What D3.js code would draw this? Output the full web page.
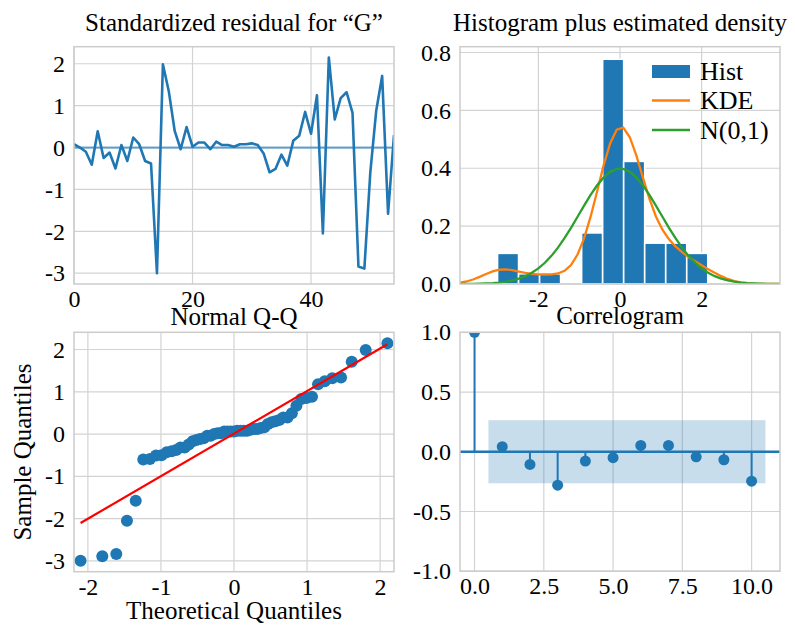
<!DOCTYPE html>
<html>
<head>
<meta charset="utf-8">
<script src="https://cdn.jsdelivr.net/npm/d3@7"></script>
<style>
  body { margin: 0; background: #fff; }
  svg text { font-family: "Liberation Serif", "Times New Roman", serif; fill: #000; }
</style>
</head>
<body>
<svg id="fig" width="795" height="627"></svg>
<script>
// Standardized residuals of the fitted model, one per time step
const residuals = [
  0.08, 0.0, -0.1, -0.41, 0.39, -0.25, -0.12, -0.5, 0.06, -0.32,
  0.24, 0.08, -0.32, -0.38, -3.0, 1.99, 1.34, 0.39, -0.04, 0.49,
  0.02, 0.12, 0.12, -0.04, 0.14, 0.06, 0.06, 0.02, 0.08, 0.08,
  0.1, 0.06, -0.14, -0.59, -0.51, -0.17, -0.43, 0.16, 0.28, 0.85,
  0.33, 1.25, -2.05, 2.15, 0.67, 1.18, 1.32, 0.83, -2.84, -2.89,
  -0.6, 0.88, 1.71, -1.58, 0.3
];

// Autocorrelation of the residuals and its 95% band
const acfLags = [0, 1, 2, 3, 4, 5, 6, 7, 8, 9, 10];
const acfValues = [1.0, 0.042, -0.106, -0.28, -0.078, -0.05, 0.053, 0.053, -0.042, -0.067, -0.246];
const acfBand = 0.264;

const histBinCount = 10;
const densityRange = [-3.92, 3.92];

// Tick values per panel
const residTicksX = [0, 20, 40];
const residTicksY = [-3, -2, -1, 0, 1, 2];
const histTicksX = [-2, 0, 2];
const histTicksY = [0, 0.2, 0.4, 0.6, 0.8];
const qqTicksX = [-2, -1, 0, 1, 2];
const qqTicksY = [-3, -2, -1, 0, 1, 2];
const acfTicksX = [0, 2.5, 5, 7.5, 10];
const acfTicksY = [-1, -0.5, 0, 0.5, 1];

const titles = ["Standardized residual for \u201CG\u201D", "Histogram plus estimated density", "Normal Q-Q", "Correlogram"];
const legendLabels = ["Hist", "KDE", "N(0,1)"];

const SERIF = '"Liberation Serif", "Times New Roman", serif';
const BLUE = "#1f77b4", ORANGE = "#ff7f0e", GREEN = "#2ca02c", RED = "#ff0000";
const GRID = "#d3d3d3", FRAME = "#cccccc";

const svg = d3.select("#fig");

const boxes = {
  resid: { x0: 74, x1: 394, y0: 46.7, y1: 284 },
  hist:  { x0: 460, x1: 780, y0: 46.7, y1: 284 },
  qq:    { x0: 74, x1: 394, y0: 332.3, y1: 571.7 },
  acf:   { x0: 460, x1: 780, y0: 332.3, y1: 571.2 }
};

const minus = s => s.replace("\u2212", "-");

function panel(key, xDom, yDom, xTicks, yTicks, fx, fy) {
  const b = boxes[key];
  const x = d3.scaleLinear().domain(xDom).range([b.x0, b.x1]);
  const y = d3.scaleLinear().domain(yDom).range([b.y1, b.y0]);
  const g = svg.append("g");
  // grid
  g.append("g").selectAll("line").data(xTicks).join("line")
    .attr("x1", d => x(d)).attr("x2", d => x(d)).attr("y1", b.y0).attr("y2", b.y1)
    .attr("stroke", GRID).attr("stroke-width", 1.2);
  g.append("g").selectAll("line").data(yTicks).join("line")
    .attr("y1", d => y(d)).attr("y2", d => y(d)).attr("x1", b.x0).attr("x2", b.x1)
    .attr("stroke", GRID).attr("stroke-width", 1.2);
  // axes
  const ax = g.append("g").attr("transform", `translate(0,${b.y1})`)
    .call(d3.axisBottom(x).tickValues(xTicks).tickFormat(d => minus(fx(d))).tickSize(0).tickPadding(6));
  const ay = g.append("g").attr("transform", `translate(${b.x0},0)`)
    .call(d3.axisLeft(y).tickValues(yTicks).tickFormat(d => minus(fy(d))).tickSize(0).tickPadding(9));
  [ax, ay].forEach(a => {
    a.select(".domain").remove();
    a.attr("font-family", SERIF).attr("font-size", 24);
    a.selectAll("text").style("font-family", SERIF).style("font-size", "24px");
  });
  // clip
  const cid = "clip-" + key;
  svg.append("clipPath").attr("id", cid).append("rect")
    .attr("x", b.x0).attr("y", b.y0).attr("width", b.x1 - b.x0).attr("height", b.y1 - b.y0);
  const plot = svg.append("g").attr("clip-path", `url(#${cid})`);
  const frame = () => svg.append("rect")
    .attr("x", b.x0).attr("y", b.y0).attr("width", b.x1 - b.x0).attr("height", b.y1 - b.y0)
    .attr("fill", "none").attr("stroke", FRAME).attr("stroke-width", 1.5);
  return { x, y, plot, frame, b };
}

function addText(x, y, text, size, transform) {
  const t = svg.append("text").attr("x", x).attr("y", y)
    .attr("text-anchor", "middle").style("font-family", SERIF).style("font-size", size + "px").text(text);
  if (transform) t.attr("transform", transform);
  return t;
}

function addTitle(b, text, baseline) {
  addText((b.x0 + b.x1) / 2, baseline, text, 25);
}

const n = residuals.length;
const rMin = d3.min(residuals), rMax = d3.max(residuals);
const rPad = 0.05 * (rMax - rMin);

// ---- Panel 1: residual series ----
{
  const p = panel("resid", [0, n - 1], [rMin - rPad, rMax + rPad], residTicksX, residTicksY,
    d3.format("d"), d3.format("d"));
  p.plot.append("line")
    .attr("x1", p.x(0)).attr("x2", p.x(n - 1)).attr("y1", p.y(0)).attr("y2", p.y(0))
    .attr("stroke", BLUE).attr("stroke-opacity", 0.6).attr("stroke-width", 2.2);
  p.plot.append("path").datum(residuals)
    .attr("d", d3.line().x((d, i) => p.x(i)).y(d => p.y(d)))
    .attr("fill", "none").attr("stroke", BLUE).attr("stroke-width", 2.6).attr("stroke-linejoin", "round");
  p.frame();
  addTitle(p.b, titles[0], 31);
}

// ---- Panel 2: histogram, KDE and N(0,1) ----
{
  const w = (rMax - rMin) / histBinCount;
  const edges = d3.range(1, histBinCount).map(k => rMin + k * w);
  const bins = d3.bin().domain([rMin, rMax]).thresholds(edges)(residuals);
  const dens = bins.map(bn => ({ x0: bn.x0, x1: bn.x1, h: bn.length / (n * w) }));
  const p = panel("hist", densityRange, [0, 0.82], histTicksX, histTicksY,
    d3.format("d"), d3.format(".1f"));
  p.plot.selectAll("rect.bar").data(dens).join("rect").attr("class", "bar")
    .attr("x", d => p.x(d.x0)).attr("width", d => p.x(d.x1) - p.x(d.x0))
    .attr("y", d => p.y(d.h)).attr("height", d => p.y(0) - p.y(d.h))
    .attr("fill", BLUE).attr("stroke", "#fff").attr("stroke-width", 1.6);

  const sd = d3.deviation(residuals) * Math.pow(n, -0.2);
  const gauss = (u, s) => Math.exp(-0.5 * (u / s) * (u / s)) / (s * Math.sqrt(2 * Math.PI));
  const grid = d3.range(50).map(k => densityRange[0] + k * (densityRange[1] - densityRange[0]) / 49);
  const kde = grid.map(t => [t, d3.mean(residuals, r => gauss(t - r, sd))]);
  const norm = grid.map(t => [t, gauss(t, 1)]);
  const line = d3.line().x(d => p.x(d[0])).y(d => p.y(d[1]));
  p.plot.append("path").datum(kde).attr("d", line)
    .attr("fill", "none").attr("stroke", ORANGE).attr("stroke-width", 2.3);
  p.plot.append("path").datum(norm).attr("d", line)
    .attr("fill", "none").attr("stroke", GREEN).attr("stroke-width", 2.3);
  p.frame();

  // legend
  const lg = svg.append("g");
  const rowY = [71.5, 100.5, 130];
  lg.append("rect").attr("x", 652).attr("y", rowY[0] - 6.5).attr("width", 38).attr("height", 13).attr("fill", BLUE);
  lg.append("line").attr("x1", 652).attr("x2", 690).attr("y1", rowY[1]).attr("y2", rowY[1])
    .attr("stroke", ORANGE).attr("stroke-width", 2.3);
  lg.append("line").attr("x1", 652).attr("x2", 690).attr("y1", rowY[2]).attr("y2", rowY[2])
    .attr("stroke", GREEN).attr("stroke-width", 2.3);
  legendLabels.forEach((d, i) => addText(700, rowY[i] + 8.5, d, 26).attr("text-anchor", "start"));
  addTitle(p.b, titles[1], 31);
}

// ---- Panel 3: normal Q-Q ----
function normInv(pr) {
  const a = [-3.969683028665376e+01, 2.209460984245205e+02, -2.759285104469687e+02, 1.383577518672690e+02, -3.066479806614716e+01, 2.506628277459239e+00];
  const b = [-5.447609879822406e+01, 1.615858368580409e+02, -1.556989798598866e+02, 6.680131188771972e+01, -1.328068155288572e+01];
  const c = [-7.784894002430293e-03, -3.223964580411365e-01, -2.400758277161838e+00, -2.549732539343734e+00, 4.374664141464968e+00, 2.938163982698783e+00];
  const d = [7.784695709041462e-03, 3.224671290700398e-01, 2.445134137142996e+00, 3.754408661907416e+00];
  const lo = 0.02425, hi = 1 - lo;
  if (pr < lo) {
    const q = Math.sqrt(-2 * Math.log(pr));
    return (((((c[0]*q+c[1])*q+c[2])*q+c[3])*q+c[4])*q+c[5]) / ((((d[0]*q+d[1])*q+d[2])*q+d[3])*q+1);
  }
  if (pr <= hi) {
    const q = pr - 0.5, r = q * q;
    return (((((a[0]*r+a[1])*r+a[2])*r+a[3])*r+a[4])*r+a[5])*q / (((((b[0]*r+b[1])*r+b[2])*r+b[3])*r+b[4])*r+1);
  }
  const q = Math.sqrt(-2 * Math.log(1 - pr));
  return -(((((c[0]*q+c[1])*q+c[2])*q+c[3])*q+c[4])*q+c[5]) / ((((d[0]*q+d[1])*q+d[2])*q+d[3])*q+1);
}
{
  const sorted = residuals.slice().sort(d3.ascending);
  const pts = sorted.map((v, i) => [normInv((i + 1) / (n + 1)), v]);
  const p = panel("qq", [-2.19, 2.19], [rMin - rPad, rMax + rPad], qqTicksX, qqTicksY,
    d3.format("d"), d3.format("d"));
  p.plot.selectAll("circle").data(pts).join("circle")
    .attr("cx", d => p.x(d[0])).attr("cy", d => p.y(d[1])).attr("r", 6).attr("fill", BLUE);
  const m = d3.deviation(residuals) * Math.sqrt((n - 1) / n), c0 = d3.mean(residuals);
  const ends = [pts[0][0], pts[n - 1][0]];
  p.plot.append("line")
    .attr("x1", p.x(ends[0])).attr("y1", p.y(ends[0] * m + c0))
    .attr("x2", p.x(ends[1])).attr("y2", p.y(ends[1] * m + c0))
    .attr("stroke", RED).attr("stroke-width", 2.2);
  p.frame();
  addTitle(p.b, titles[2], 325);
  addText(234, 619, "Theoretical Quantiles", 25);
  addText(0, 0, "Sample Quantiles", 25, "translate(31,452) rotate(-90)");
}

// ---- Panel 4: correlogram ----
{
  const last = acfLags[acfLags.length - 1];
  const p = panel("acf", [-0.525, last + 1.025], [-1, 1], acfTicksX, acfTicksY,
    d3.format(".1f"), d3.format(".1f"));
  p.plot.append("rect")
    .attr("x", p.x(0.5)).attr("width", p.x(last + 0.5) - p.x(0.5))
    .attr("y", p.y(acfBand)).attr("height", p.y(-acfBand) - p.y(acfBand))
    .attr("fill", BLUE).attr("fill-opacity", 0.25);
  p.plot.selectAll("line.stem").data(acfLags).join("line").attr("class", "stem")
    .attr("x1", d => p.x(d)).attr("x2", d => p.x(d))
    .attr("y1", p.y(0)).attr("y2", (d, i) => p.y(acfValues[i]))
    .attr("stroke", BLUE).attr("stroke-width", 2);
  p.plot.append("line").attr("x1", p.b.x0).attr("x2", p.b.x1).attr("y1", p.y(0)).attr("y2", p.y(0))
    .attr("stroke", BLUE).attr("stroke-width", 2.6);
  p.plot.selectAll("circle").data(acfLags).join("circle")
    .attr("cx", d => p.x(d)).attr("cy", (d, i) => p.y(acfValues[i])).attr("r", 5.5).attr("fill", BLUE);
  p.frame();
  addTitle(p.b, titles[3], 324);
}
</script>
</body>
</html>
